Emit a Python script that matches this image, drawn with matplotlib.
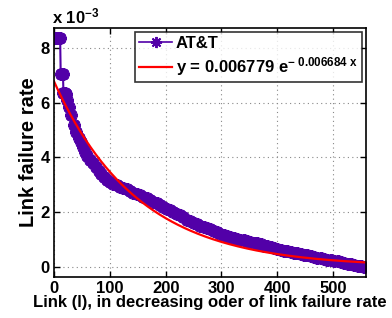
import numpy as np
import matplotlib
matplotlib.use('Agg')
import matplotlib.pyplot as plt
from matplotlib.lines import Line2D

# link rank vs failure rate (x 10^-3)
rank = [1, 3, 5, 7, 9, 11, 12, 14, 16, 17, 19, 21, 23,
        26, 30, 35, 40, 44, 48, 52, 56, 60, 65, 70, 75, 80, 85, 90, 95,
        100, 106, 112, 118, 124, 130, 136, 142, 148, 154, 160, 166, 172,
        178, 184, 190, 196, 202, 208, 214, 220, 226, 232, 238, 244, 250,
        256, 262, 268, 274, 280, 286, 292, 298, 304, 310, 316, 322, 328,
        334, 340, 346, 352, 358, 364, 370, 376, 382, 388, 394, 400, 406,
        412, 418, 424, 430, 436, 442, 448, 454, 460, 466, 472, 478, 484,
        490, 496, 502, 508, 514, 520, 526, 532, 538, 544, 550, 555]
rate = [8.35, 8.35, 8.35, 8.35, 8.35, 8.35, 7.05, 7.05, 7.05, 6.35, 6.35, 6.32, 6.1,
        5.86, 5.55, 5.19, 4.92, 4.72, 4.55, 4.38, 4.20, 4.06, 3.92, 3.78, 3.65, 3.52, 3.40, 3.28, 3.18,
        3.10, 3.04, 2.98, 2.93, 2.88, 2.83, 2.77, 2.71, 2.67, 2.63, 2.57, 2.50, 2.44,
        2.38, 2.32, 2.26, 2.17, 2.11, 2.07, 2.02, 1.95, 1.89, 1.81, 1.73, 1.66, 1.60,
        1.55, 1.51, 1.46, 1.42, 1.37, 1.32, 1.26, 1.21, 1.17, 1.14, 1.11, 1.07, 1.03,
        1.00, 0.97, 0.94, 0.91, 0.89, 0.86, 0.82, 0.78, 0.75, 0.71, 0.68, 0.64, 0.60,
        0.59, 0.57, 0.54, 0.52, 0.50, 0.47, 0.45, 0.43, 0.40, 0.37, 0.34, 0.31, 0.28,
        0.26, 0.24, 0.22, 0.20, 0.17, 0.14, 0.12, 0.09, 0.07, 0.04, 0.02, -0.01]

# exponential fit from the legend
fit_a = 0.006779
fit_b = 0.006684

xticks = [0, 100, 200, 300, 400, 500]
yticks = [0, 2, 4, 6, 8]

plt.rcParams['font.family'] = ['Liberation Sans', 'DejaVu Sans']
plt.rcParams['font.weight'] = 'bold'
plt.rcParams['mathtext.fontset'] = 'custom'
plt.rcParams['mathtext.rm'] = 'Liberation Sans:bold'
plt.rcParams['mathtext.it'] = 'Liberation Sans:bold'
plt.rcParams['mathtext.bf'] = 'Liberation Sans:bold'
plt.rcParams['mathtext.default'] = 'bf'

fig = plt.figure(figsize=(3.92, 3.18), dpi=100)
ax = fig.add_axes([54 / 392, 1 - 277 / 318, 312 / 392, 249 / 318])

purple = '#5200a8'
ax.plot(rank, rate, color=purple, linewidth=1.5, marker=(8, 2, 0),
        markersize=9, markeredgewidth=2.6)

xf = np.linspace(0, 559, 300)
fit_label = r'y = 0.006779 e$^{-\ 0.006684\ x}$'
ax.plot(xf, fit_a * np.exp(-fit_b * xf) * 1e3, color='red', linewidth=1.6)

ax.set_xlim(0, 559)
ax.set_ylim(-0.37, 8.73)
ax.set_xticks(xticks)
ax.set_yticks(yticks)
ax.tick_params(direction='in', top=True, right=True, labelsize=12, length=4,
               width=1, pad=3)
for lab in ax.get_xticklabels() + ax.get_yticklabels():
    lab.set_fontweight('bold')
for s in ax.spines.values():
    s.set_linewidth(1.2)
ax.grid(True, linestyle=(0, (1, 3)), color='#888888', linewidth=0.8)

ax.set_xlabel('Link (l), in decreasing oder of link failure rate',
              fontsize=12, fontweight='bold', labelpad=-1)
ax.set_ylabel('Link failure rate', fontsize=14.5, fontweight='bold', labelpad=2)

fig.text(52 / 392, 1 - 23 / 318, r'x 10$^{-3}$', fontsize=12,
         fontweight='bold', ha='left', va='baseline')

# legend proxies so the asterisk reads clearly at small size
handles = [Line2D([], [], color=purple, linewidth=1.2, marker=(8, 2, 0),
                  markersize=8, markeredgewidth=1.4),
           Line2D([], [], color='red', linewidth=1.6)]
leg = ax.legend(handles, ['AT&T', fit_label], loc='upper right', fontsize=12,
                frameon=True, fancybox=False, handlelength=2.0,
                handletextpad=0.2, borderpad=0.25, labelspacing=0.25,
                borderaxespad=0)
leg.get_frame().set_edgecolor('black')
leg.get_frame().set_linewidth(1.2)
leg.set_bbox_to_anchor((362 / 392, 1 - 32 / 318), transform=fig.transFigure)

fig.savefig('out.png', dpi=100)
